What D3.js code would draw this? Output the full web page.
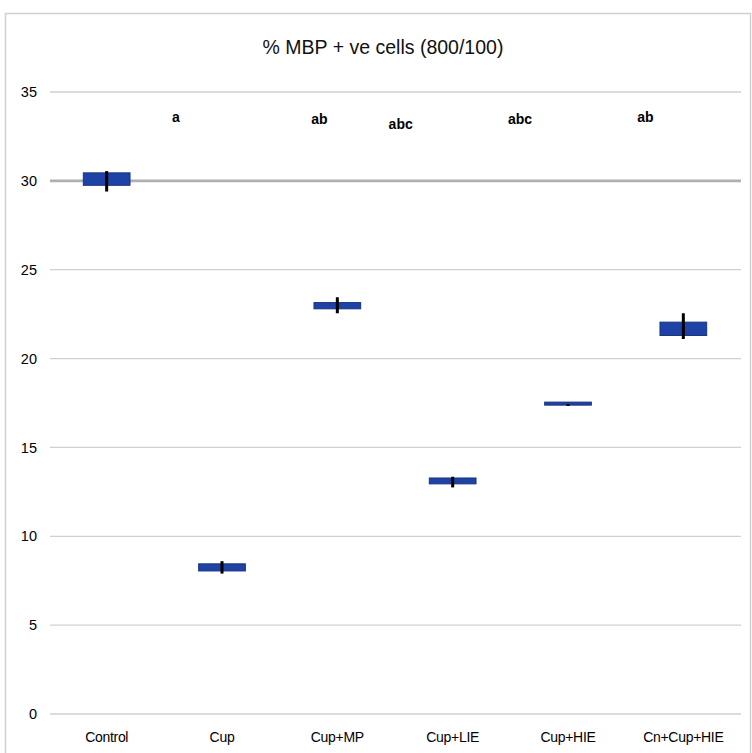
<!DOCTYPE html>
<html>
<head>
<meta charset="utf-8">
<script src="https://cdn.jsdelivr.net/npm/d3@7"></script>
<style>
  html, body { margin: 0; padding: 0; background: #fff; }
  svg { display: block; }
  text { font-family: "Liberation Sans", Arial, sans-serif; }
</style>
</head>
<body>
<svg id="chart" width="752" height="753"></svg>
<script>
// Groups along the x axis
const categories = ["Control", "Cup", "Cup+MP", "Cup+LIE", "Cup+HIE", "Cn+Cup+HIE"];
// Box extents (% MBP positive cells)
const boxLow  = [29.75, 8.05, 22.8, 12.95, 17.38, 21.3];
const boxHigh = [30.45, 8.45, 23.15, 13.28, 17.55, 22.05];
// Error bar extents
const errLow  = [29.4, 7.9, 22.55, 12.75, 17.33, 21.1];
const errHigh = [30.55, 8.6, 23.45, 13.35, 17.45, 22.55];
// Y axis ticks
const yTicks = [0, 5, 10, 15, 20, 25, 30, 35];
// Significance letters and the group each belongs to
const sigLetters = ["a", "ab", "abc", "abc", "ab"];
const sigGroups  = ["Cup", "Cup+MP", "Cup+LIE", "Cup+HIE", "Cn+Cup+HIE"];

const svg = d3.select("#chart");
const plot = { left: 49, right: 741, top: 92, bottom: 714 };

// Outer chart frame
svg.append("rect")
  .attr("x", 5.5).attr("y", 13.5)
  .attr("width", 745).attr("height", 760)
  .attr("fill", "#fff").attr("stroke", "#d0d0d0").attr("stroke-width", 1.5);

const x = d3.scaleBand().domain(categories).range([plot.left, plot.right]);
const y = d3.scaleLinear().domain([0, 35]).range([plot.bottom, plot.top]);

// Title
svg.append("text")
  .attr("x", 383).attr("y", 54)
  .attr("text-anchor", "middle")
  .attr("font-size", 19.5).attr("fill", "#111")
  .text("% MBP + ve cells (800/100)");

// Horizontal gridlines
svg.append("g").selectAll("line").data(yTicks).join("line")
  .attr("x1", plot.left + 1).attr("x2", plot.right)
  .attr("y1", d => y(d)).attr("y2", d => y(d))
  .attr("stroke", d => d === 30 ? "#b0b0b0" : "#d0d0d0")
  .attr("stroke-width", d => d === 30 ? 2.8 : 1.3);

// Y axis labels
const yAxis = d3.axisLeft(y).tickValues(yTicks).tickSize(0).tickPadding(0);
const gy = svg.append("g").attr("transform", `translate(${plot.left - 12},0)`).call(yAxis);
gy.select(".domain").remove();
gy.selectAll("text").attr("font-size", 14.5).attr("fill", "#000")
  .attr("font-family", "'Liberation Sans Narrow', 'Liberation Sans', sans-serif")
  .attr("dy", "0.32em");

// X axis labels
const xAxis = d3.axisBottom(x).tickSize(0).tickPadding(0);
const gx = svg.append("g").attr("transform", `translate(0,${plot.bottom + 18})`).call(xAxis);
gx.select(".domain").remove();
gx.selectAll("text").attr("font-size", 14).attr("fill", "#000")
  .attr("font-family", "'Liberation Sans Narrow', 'Liberation Sans', sans-serif")
  .attr("letter-spacing", "-0.3")
  .attr("dy", "0.71em");

const rows = categories.map((c, i) => ({ c, lo: boxLow[i], hi: boxHigh[i], el: errLow[i], eh: errHigh[i] }));
const boxW = x.bandwidth() * 0.405;

// Floating boxes
svg.append("g").selectAll("rect").data(rows).join("rect")
  .attr("x", d => x(d.c) + x.bandwidth() / 2 - boxW / 2)
  .attr("y", d => y(d.hi))
  .attr("width", boxW)
  .attr("height", d => Math.max(2.5, y(d.lo) - y(d.hi)))
  .attr("fill", "#1e42a6")
  .attr("stroke", "#18347c").attr("stroke-width", 1);

// Error bars
svg.append("g").selectAll("line").data(rows).join("line")
  .attr("x1", d => x(d.c) + x.bandwidth() / 2)
  .attr("x2", d => x(d.c) + x.bandwidth() / 2)
  .attr("y1", d => y(d.eh)).attr("y2", d => y(d.el))
  .attr("stroke", "#000").attr("stroke-width", 3);

// Significance letters, set slightly left of their group centre
const letterShift = [-46, -18, -52, -48, -38];
const letterDy = [0, 2, 7, 2, 0];
svg.append("g").selectAll("text").data(sigLetters).join("text")
  .attr("x", (d, i) => x(sigGroups[i]) + x.bandwidth() / 2 + letterShift[i])
  .attr("y", (d, i) => y(33.3) + letterDy[i])
  .attr("text-anchor", "middle")
  .attr("font-size", 14).attr("font-weight", "bold").attr("fill", "#000")
  .text(d => d);
</script>
</body>
</html>
